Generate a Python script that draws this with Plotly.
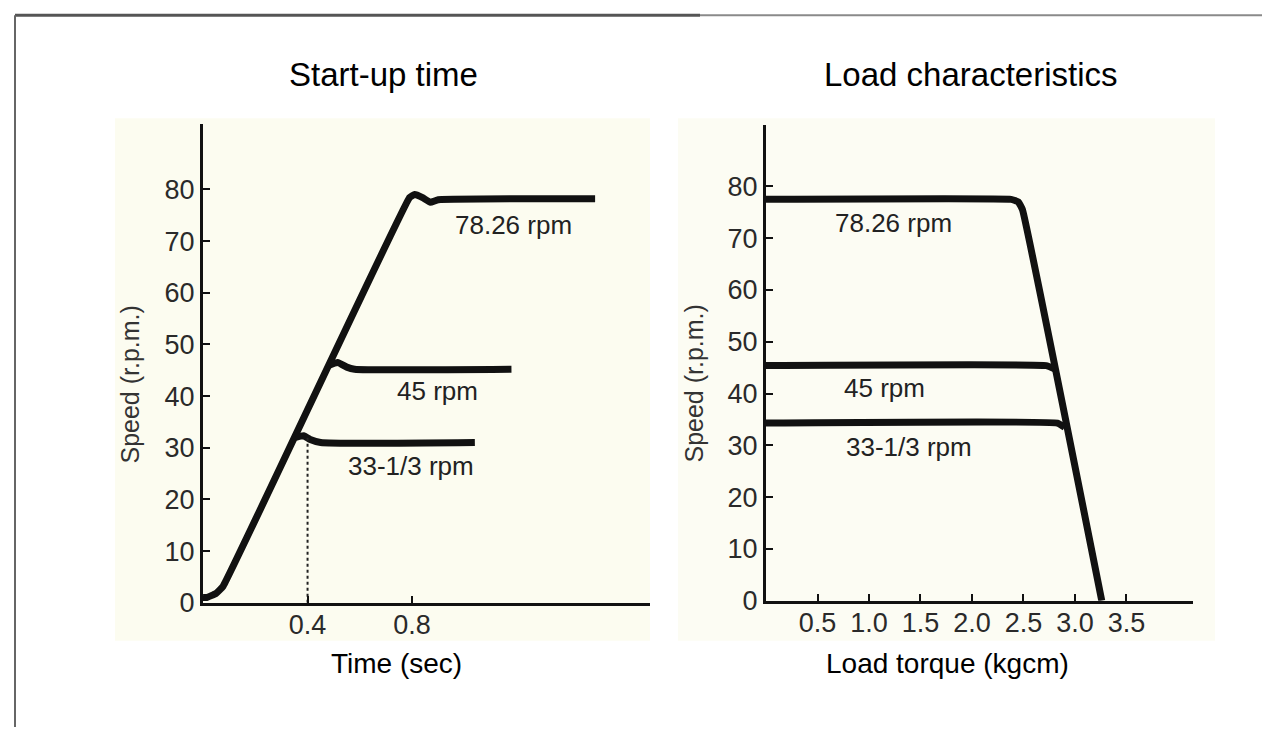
import plotly.graph_objects as go

# ---------------- data ----------------
# Left panel: start-up time
ramp_t = [0.0, 0.014, 0.05, 0.077, 0.79, 0.81, 0.84, 0.87, 0.90, 1.50]
ramp_v = [1.0, 1.0, 1.8, 3.2, 78.4, 79.0, 78.4, 77.5, 78.0, 78.2]
b45_t = [0.485, 0.515, 0.55, 0.58, 1.18]
b45_v = [46.0, 46.5, 45.6, 45.2, 45.2]
b33_t = [0.355, 0.385, 0.41, 0.45, 1.04]
b33_v = [32.0, 32.3, 31.6, 31.0, 31.0]
dash_t = [0.40, 0.40]
dash_v = [0.0, 32.0]
left_xticks = [0.4, 0.8]
left_xlabels = ["0.4", "0.8"]

# Right panel: load characteristics
l78_x = [0.0, 2.38, 2.45, 2.49, 3.26]
l78_y = [77.5, 77.5, 77.0, 75.5, 0.0]
l45_x = [0.0, 2.72, 2.80]
l45_y = [45.4, 45.4, 44.8]
l33_x = [0.0, 2.83, 2.90]
l33_y = [34.3, 34.3, 33.5]
right_xticks = [0.5, 1.0, 1.5, 2.0, 2.5, 3.0, 3.5]
right_xlabels = ["0.5", "1.0", "1.5", "2.0", "2.5", "3.0", "3.5"]

y_ticks = [0, 10, 20, 30, 40, 50, 60, 70, 80]

labels_left = [("78.26 rpm", 1.188, 73.1), ("45 rpm", 0.897, 40.9), ("33-1/3 rpm", 0.797, 26.5)]
labels_right = [("78.26 rpm", 1.24, 72.9), ("45 rpm", 1.155, 41.0), ("33-1/3 rpm", 1.39, 29.6)]

# ---------------- geometry ----------------
# page has an 8px body margin; the captured page is 750px tall scaled to 734
OFF = 8
SY = 750 / 734
FW, FH = 1270 - 2 * OFF, 750 - 2 * OFF


def px_x(p):
    return (p - OFF) / FW


def px_y(p):
    return (FH - (p * SY - OFF)) / FH


# ---------------- figure ----------------
LINE = dict(color="#111111", width=7)
fig = go.Figure()
fig.add_trace(go.Scatter(x=ramp_t, y=ramp_v, mode="lines", line=dict(LINE, shape="spline", smoothing=0.3), xaxis="x", yaxis="y"))
fig.add_trace(go.Scatter(x=b45_t, y=b45_v, mode="lines", line=dict(LINE, shape="spline", smoothing=0.5), xaxis="x", yaxis="y"))
fig.add_trace(go.Scatter(x=b33_t, y=b33_v, mode="lines", line=dict(LINE, shape="spline", smoothing=0.5), xaxis="x", yaxis="y"))
fig.add_trace(go.Scatter(x=dash_t, y=dash_v, mode="lines", line=dict(color="#222222", width=2, dash="dot"), xaxis="x", yaxis="y"))

fig.add_trace(go.Scatter(x=l78_x, y=l78_y, mode="lines", line=dict(LINE, shape="spline", smoothing=0.3), xaxis="x2", yaxis="y2"))
fig.add_trace(go.Scatter(x=l45_x, y=l45_y, mode="lines", line=dict(LINE, shape="spline", smoothing=0.3), xaxis="x2", yaxis="y2"))
fig.add_trace(go.Scatter(x=l33_x, y=l33_y, mode="lines", line=dict(LINE, shape="spline", smoothing=0.3), xaxis="x2", yaxis="y2"))

TICKFONT = dict(family="Liberation Sans, Arial", size=27, color="#2a2a2a")
axis_common = dict(showgrid=False, zeroline=False, showline=True, linecolor="#111111", linewidth=3,
                   ticks="inside", ticklen=7, tickwidth=2, tickcolor="#111111", tickfont=TICKFONT)

fig.update_layout(
    width=FW, height=FH, autosize=False, showlegend=False,
    margin=dict(l=0, r=0, t=0, b=0),
    paper_bgcolor="#ffffff", plot_bgcolor="rgba(0,0,0,0)",
    xaxis=dict(axis_common, domain=[px_x(203), px_x(650)], range=[0, 1.71],
               tickvals=left_xticks, ticktext=left_xlabels, anchor="y", ticklabelstandoff=-4),
    yaxis=dict(axis_common, domain=[px_y(602), px_y(124)], range=[0, 92.6],
               tickvals=y_ticks, anchor="x"),
    xaxis2=dict(axis_common, domain=[px_x(766), px_x(1193)], range=[0, 4.146],
                tickvals=right_xticks, ticktext=right_xlabels, anchor="y2", ticklabelstandoff=-4),
    yaxis2=dict(axis_common, domain=[px_y(600), px_y(125)], range=[0, 91.8],
                tickvals=y_ticks, anchor="x2"),
)

shapes = [
    dict(type="rect", xref="paper", yref="paper", x0=px_x(115), x1=px_x(650), y0=px_y(640), y1=px_y(118),
         fillcolor="#fcfcf0", line=dict(width=0), layer="below"),
    dict(type="rect", xref="paper", yref="paper", x0=px_x(678), x1=px_x(1215), y0=px_y(640), y1=px_y(118),
         fillcolor="#fcfcf3", line=dict(width=0), layer="below"),
    dict(type="line", xref="paper", yref="paper", x0=px_x(15), x1=px_x(700), y0=px_y(15), y1=px_y(15),
         line=dict(color="#555555", width=3)),
    dict(type="line", xref="paper", yref="paper", x0=px_x(700), x1=1, y0=px_y(15), y1=px_y(15),
         line=dict(color="#8a8a8a", width=2)),
    dict(type="line", xref="paper", yref="paper", x0=px_x(15), x1=px_x(15), y0=0, y1=px_y(15),
         line=dict(color="#666666", width=2)),
]
fig.update_layout(shapes=shapes)

TXT = dict(family="Liberation Sans, Arial", color="#000000")
YT = dict(family="Liberation Sans, Arial", size=25, color="#333333")
ann = [
    dict(text="Start-up time", x=px_x(383), y=px_y(74), font=dict(TXT, size=33)),
    dict(text="Load characteristics", x=px_x(970), y=px_y(74), font=dict(TXT, size=33)),
    dict(text="Time (sec)", x=px_x(396), y=px_y(663), font=dict(TXT, size=28)),
    dict(text="Load torque (kgcm)", x=px_x(947), y=px_y(663), font=dict(TXT, size=28)),
    dict(text="Speed (r.p.m.)", x=px_x(130), y=px_y(384), textangle=-90, font=YT),
    dict(text="Speed (r.p.m.)", x=px_x(694), y=px_y(383), textangle=-90, font=YT),
]
for a in ann:
    a.update(xref="paper", yref="paper", showarrow=False, xanchor="center", yanchor="middle")

LBLFONT = dict(family="Liberation Sans, Arial", size=26, color="#222222")
for t, x, y in labels_left:
    ann.append(dict(text=t, x=x, y=y, xref="x", yref="y", showarrow=False, font=LBLFONT))
for t, x, y in labels_right:
    ann.append(dict(text=t, x=x, y=y, xref="x2", yref="y2", showarrow=False, font=LBLFONT))
fig.update_layout(annotations=ann)

fig.write_html("out.html")
